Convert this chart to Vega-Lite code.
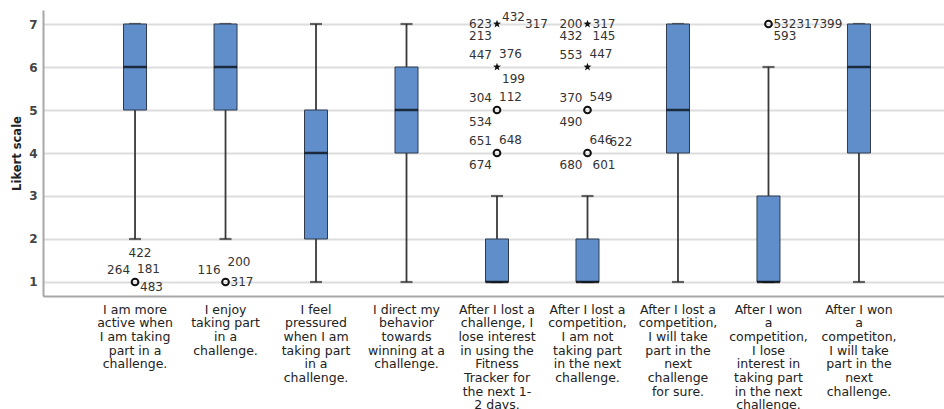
{
  "$schema": "https://vega.github.io/schema/vega-lite/v6.json",
  "autosize": "none",
  "width": 901,
  "height": 286,
  "padding": {"left": 43, "top": 10, "right": 0, "bottom": 113},
  "background": "white",
  "config": {
    "font": "DejaVu Sans",
    "view": {"stroke": null}
  },
  "datasets": {
    "boxes": [
      {"q": "I am more\nactive when\nI am taking\npart in a\nchallenge.", "lower": 2, "q1": 5, "median": 6, "q3": 7, "upper": 7},
      {"q": "I enjoy\ntaking part\nin a\nchallenge.", "lower": 2, "q1": 5, "median": 6, "q3": 7, "upper": 7},
      {"q": "I feel\npressured\nwhen I am\ntaking part\nin a\nchallenge.", "lower": 1, "q1": 2, "median": 4, "q3": 5, "upper": 7},
      {"q": "I direct my\nbehavior\ntowards\nwinning at a\nchallenge.", "lower": 1, "q1": 4, "median": 5, "q3": 6, "upper": 7},
      {"q": "After I lost a\nchallenge, I\nlose interest\nin using the\nFitness\nTracker for\nthe next 1-\n2 days.", "lower": 1, "q1": 1, "median": 1, "q3": 2, "upper": 3},
      {"q": "After I lost a\ncompetition,\nI am not\ntaking part\nin the next\nchallenge.", "lower": 1, "q1": 1, "median": 1, "q3": 2, "upper": 3},
      {"q": "After I lost a\ncompetition,\nI will take\npart in the\nnext\nchallenge\nfor sure.", "lower": 1, "q1": 4, "median": 5, "q3": 7, "upper": 7},
      {"q": "After I won\na\ncompetition,\nI lose\ninterest in\ntaking part\nin the next\nchallenge.", "lower": 1, "q1": 1, "median": 1, "q3": 3, "upper": 6},
      {"q": "After I won\na\ncompetiton,\nI will take\npart in the\nnext\nchallenge.", "lower": 1, "q1": 4, "median": 6, "q3": 7, "upper": 7}
    ],
    "outliers": [
      {"q": "I am more\nactive when\nI am taking\npart in a\nchallenge.", "value": 1, "kind": "outlier"},
      {"q": "I enjoy\ntaking part\nin a\nchallenge.", "value": 1, "kind": "outlier"},
      {"q": "After I lost a\nchallenge, I\nlose interest\nin using the\nFitness\nTracker for\nthe next 1-\n2 days.", "value": 4, "kind": "outlier"},
      {"q": "After I lost a\nchallenge, I\nlose interest\nin using the\nFitness\nTracker for\nthe next 1-\n2 days.", "value": 5, "kind": "outlier"},
      {"q": "After I lost a\nchallenge, I\nlose interest\nin using the\nFitness\nTracker for\nthe next 1-\n2 days.", "value": 6, "kind": "extreme"},
      {"q": "After I lost a\nchallenge, I\nlose interest\nin using the\nFitness\nTracker for\nthe next 1-\n2 days.", "value": 7, "kind": "extreme"},
      {"q": "After I lost a\ncompetition,\nI am not\ntaking part\nin the next\nchallenge.", "value": 4, "kind": "outlier"},
      {"q": "After I lost a\ncompetition,\nI am not\ntaking part\nin the next\nchallenge.", "value": 5, "kind": "outlier"},
      {"q": "After I lost a\ncompetition,\nI am not\ntaking part\nin the next\nchallenge.", "value": 6, "kind": "extreme"},
      {"q": "After I lost a\ncompetition,\nI am not\ntaking part\nin the next\nchallenge.", "value": 7, "kind": "extreme"},
      {"q": "After I won\na\ncompetition,\nI lose\ninterest in\ntaking part\nin the next\nchallenge.", "value": 7, "kind": "outlier"}
    ],
    "labels": [
      {"q": "I am more\nactive when\nI am taking\npart in a\nchallenge.", "value": 1, "label": "483", "pos": "rlow"},
      {"q": "I am more\nactive when\nI am taking\npart in a\nchallenge.", "value": 1, "label": "264", "pos": "ul"},
      {"q": "I am more\nactive when\nI am taking\npart in a\nchallenge.", "value": 1, "label": "181", "pos": "ur"},
      {"q": "I am more\nactive when\nI am taking\npart in a\nchallenge.", "value": 1, "label": "422", "pos": "uu"},
      {"q": "I enjoy\ntaking part\nin a\nchallenge.", "value": 1, "label": "317", "pos": "r"},
      {"q": "I enjoy\ntaking part\nin a\nchallenge.", "value": 1, "label": "116", "pos": "ul"},
      {"q": "I enjoy\ntaking part\nin a\nchallenge.", "value": 1, "label": "200", "pos": "uur"},
      {"q": "After I lost a\nchallenge, I\nlose interest\nin using the\nFitness\nTracker for\nthe next 1-\n2 days.", "value": 7, "label": "623", "pos": "l"},
      {"q": "After I lost a\nchallenge, I\nlose interest\nin using the\nFitness\nTracker for\nthe next 1-\n2 days.", "value": 7, "label": "432", "pos": "urs"},
      {"q": "After I lost a\nchallenge, I\nlose interest\nin using the\nFitness\nTracker for\nthe next 1-\n2 days.", "value": 7, "label": "317", "pos": "r2"},
      {"q": "After I lost a\nchallenge, I\nlose interest\nin using the\nFitness\nTracker for\nthe next 1-\n2 days.", "value": 7, "label": "213", "pos": "dl"},
      {"q": "After I lost a\nchallenge, I\nlose interest\nin using the\nFitness\nTracker for\nthe next 1-\n2 days.", "value": 6, "label": "447", "pos": "ul"},
      {"q": "After I lost a\nchallenge, I\nlose interest\nin using the\nFitness\nTracker for\nthe next 1-\n2 days.", "value": 6, "label": "376", "pos": "ur"},
      {"q": "After I lost a\nchallenge, I\nlose interest\nin using the\nFitness\nTracker for\nthe next 1-\n2 days.", "value": 6, "label": "199", "pos": "dr"},
      {"q": "After I lost a\nchallenge, I\nlose interest\nin using the\nFitness\nTracker for\nthe next 1-\n2 days.", "value": 5, "label": "304", "pos": "ul"},
      {"q": "After I lost a\nchallenge, I\nlose interest\nin using the\nFitness\nTracker for\nthe next 1-\n2 days.", "value": 5, "label": "112", "pos": "ur"},
      {"q": "After I lost a\nchallenge, I\nlose interest\nin using the\nFitness\nTracker for\nthe next 1-\n2 days.", "value": 5, "label": "534", "pos": "dl"},
      {"q": "After I lost a\nchallenge, I\nlose interest\nin using the\nFitness\nTracker for\nthe next 1-\n2 days.", "value": 4, "label": "651", "pos": "ul"},
      {"q": "After I lost a\nchallenge, I\nlose interest\nin using the\nFitness\nTracker for\nthe next 1-\n2 days.", "value": 4, "label": "648", "pos": "ur"},
      {"q": "After I lost a\nchallenge, I\nlose interest\nin using the\nFitness\nTracker for\nthe next 1-\n2 days.", "value": 4, "label": "674", "pos": "dl"},
      {"q": "After I lost a\ncompetition,\nI am not\ntaking part\nin the next\nchallenge.", "value": 7, "label": "200", "pos": "l"},
      {"q": "After I lost a\ncompetition,\nI am not\ntaking part\nin the next\nchallenge.", "value": 7, "label": "317", "pos": "r"},
      {"q": "After I lost a\ncompetition,\nI am not\ntaking part\nin the next\nchallenge.", "value": 7, "label": "432", "pos": "dl"},
      {"q": "After I lost a\ncompetition,\nI am not\ntaking part\nin the next\nchallenge.", "value": 7, "label": "145", "pos": "dr"},
      {"q": "After I lost a\ncompetition,\nI am not\ntaking part\nin the next\nchallenge.", "value": 6, "label": "553", "pos": "ul"},
      {"q": "After I lost a\ncompetition,\nI am not\ntaking part\nin the next\nchallenge.", "value": 6, "label": "447", "pos": "ur"},
      {"q": "After I lost a\ncompetition,\nI am not\ntaking part\nin the next\nchallenge.", "value": 5, "label": "370", "pos": "ul"},
      {"q": "After I lost a\ncompetition,\nI am not\ntaking part\nin the next\nchallenge.", "value": 5, "label": "549", "pos": "ur"},
      {"q": "After I lost a\ncompetition,\nI am not\ntaking part\nin the next\nchallenge.", "value": 5, "label": "490", "pos": "dl"},
      {"q": "After I lost a\ncompetition,\nI am not\ntaking part\nin the next\nchallenge.", "value": 4, "label": "646", "pos": "ur"},
      {"q": "After I lost a\ncompetition,\nI am not\ntaking part\nin the next\nchallenge.", "value": 4, "label": "622", "pos": "ur2"},
      {"q": "After I lost a\ncompetition,\nI am not\ntaking part\nin the next\nchallenge.", "value": 4, "label": "680", "pos": "dl"},
      {"q": "After I lost a\ncompetition,\nI am not\ntaking part\nin the next\nchallenge.", "value": 4, "label": "601", "pos": "dr"},
      {"q": "After I won\na\ncompetition,\nI lose\ninterest in\ntaking part\nin the next\nchallenge.", "value": 7, "label": "532", "pos": "r"},
      {"q": "After I won\na\ncompetition,\nI lose\ninterest in\ntaking part\nin the next\nchallenge.", "value": 7, "label": "317", "pos": "r2"},
      {"q": "After I won\na\ncompetition,\nI lose\ninterest in\ntaking part\nin the next\nchallenge.", "value": 7, "label": "399", "pos": "r3"},
      {"q": "After I won\na\ncompetition,\nI lose\ninterest in\ntaking part\nin the next\nchallenge.", "value": 7, "label": "593", "pos": "dr"}
    ]
  },
  "encoding": {
    "x": {
      "field": "q",
      "type": "nominal",
      "title": null,
      "scale": {
        "domain": [
          "I am more\nactive when\nI am taking\npart in a\nchallenge.",
          "I enjoy\ntaking part\nin a\nchallenge.",
          "I feel\npressured\nwhen I am\ntaking part\nin a\nchallenge.",
          "I direct my\nbehavior\ntowards\nwinning at a\nchallenge.",
          "After I lost a\nchallenge, I\nlose interest\nin using the\nFitness\nTracker for\nthe next 1-\n2 days.",
          "After I lost a\ncompetition,\nI am not\ntaking part\nin the next\nchallenge.",
          "After I lost a\ncompetition,\nI will take\npart in the\nnext\nchallenge\nfor sure.",
          "After I won\na\ncompetition,\nI lose\ninterest in\ntaking part\nin the next\nchallenge.",
          "After I won\na\ncompetiton,\nI will take\npart in the\nnext\nchallenge."
        ],
        "range": [0, 908],
        "paddingInner": 0,
        "paddingOuter": 0.517
      },
      "axis": {
        "labelAngle": 0,
        "labelExpr": "split(datum.label, '\\n')",
        "labelBaseline": "top",
        "labelAlign": "center",
        "labelPadding": 7,
        "labelFontSize": 12.5,
        "labelLineHeight": 13.7,
        "labelColor": "#222222",
        "labelLimit": 300,
        "ticks": false,
        "grid": false,
        "domainColor": "#a8a8a8",
        "domainWidth": 2
      }
    }
  },
  "layer": [
    {
      "data": {"name": "boxes"},
      "mark": {"type": "rule", "color": "#3a3a3a", "strokeWidth": 1.8},
      "encoding": {
        "y": {
          "field": "lower",
          "type": "quantitative",
          "title": "Likert scale",
          "scale": {"domain": [0.6744, 7.3256], "nice": false, "zero": false},
          "axis": {
            "values": [1, 2, 3, 4, 5, 6, 7],
            "ticks": false,
            "grid": true,
            "gridColor": "#dddddd",
            "gridWidth": 2,
            "domainColor": "#a8a8a8",
            "domainWidth": 2,
            "labelFontSize": 12,
            "labelFontWeight": "bold",
            "labelColor": "#444444",
            "labelPadding": 6,
            "titleFontSize": 11.5,
            "titleFontWeight": "bold",
            "titleColor": "#222222",
            "titlePadding": 6
          }
        },
        "y2": {"field": "upper"}
      }
    },
    {
      "data": {"name": "boxes"},
      "mark": {"type": "tick", "color": "#2a2a2a", "size": 12, "thickness": 2.2},
      "encoding": {"y": {"field": "lower", "type": "quantitative"}}
    },
    {
      "data": {"name": "boxes"},
      "mark": {"type": "tick", "color": "#2a2a2a", "size": 12, "thickness": 2.2},
      "encoding": {"y": {"field": "upper", "type": "quantitative"}}
    },
    {
      "data": {"name": "boxes"},
      "mark": {"type": "bar", "width": 23, "fill": "#5f8ecb", "stroke": "#2f3b4c", "strokeWidth": 1},
      "encoding": {
        "y": {"field": "q1", "type": "quantitative"},
        "y2": {"field": "q3"}
      }
    },
    {
      "data": {"name": "boxes"},
      "mark": {"type": "tick", "color": "#000000", "size": 23, "thickness": 2.5},
      "encoding": {"y": {"field": "median", "type": "quantitative"}}
    },
    {
      "data": {"name": "outliers"},
      "transform": [{"filter": "datum.kind === 'outlier'"}],
      "mark": {"type": "point", "shape": "circle", "filled": false, "stroke": "#111111", "strokeWidth": 2, "size": 45, "opacity": 1},
      "encoding": {"y": {"field": "value", "type": "quantitative"}}
    },
    {
      "data": {"name": "outliers"},
      "transform": [{"filter": "datum.kind === 'extreme'"}],
      "mark": {"type": "point", "shape": "M0,-1L0.24,-0.33L0.95,-0.31L0.38,0.12L0.59,0.81L0,0.4L-0.59,0.81L-0.38,0.12L-0.95,-0.31L-0.24,-0.33Z", "filled": true, "fill": "#111111", "size": 70, "opacity": 1},
      "encoding": {"y": {"field": "value", "type": "quantitative"}}
    },
    {
      "data": {"name": "labels"},
      "transform": [{"filter": "datum.pos === 'l'"}],
      "mark": {"type": "text", "align": "right", "baseline": "middle", "dx": -5, "dy": 0, "fontSize": 12, "color": "#333333"},
      "encoding": {"y": {"field": "value", "type": "quantitative"}, "text": {"field": "label"}}
    },
    {
      "data": {"name": "labels"},
      "transform": [{"filter": "datum.pos === 'r'"}],
      "mark": {"type": "text", "align": "left", "baseline": "middle", "dx": 5, "dy": 0, "fontSize": 12, "color": "#333333"},
      "encoding": {"y": {"field": "value", "type": "quantitative"}, "text": {"field": "label"}}
    },
    {
      "data": {"name": "labels"},
      "transform": [{"filter": "datum.pos === 'r2'"}],
      "mark": {"type": "text", "align": "left", "baseline": "middle", "dx": 28, "dy": 0, "fontSize": 12, "color": "#333333"},
      "encoding": {"y": {"field": "value", "type": "quantitative"}, "text": {"field": "label"}}
    },
    {
      "data": {"name": "labels"},
      "transform": [{"filter": "datum.pos === 'r3'"}],
      "mark": {"type": "text", "align": "left", "baseline": "middle", "dx": 51, "dy": 0, "fontSize": 12, "color": "#333333"},
      "encoding": {"y": {"field": "value", "type": "quantitative"}, "text": {"field": "label"}}
    },
    {
      "data": {"name": "labels"},
      "transform": [{"filter": "datum.pos === 'rlow'"}],
      "mark": {"type": "text", "align": "left", "baseline": "middle", "dx": 5, "dy": 5, "fontSize": 12, "color": "#333333"},
      "encoding": {"y": {"field": "value", "type": "quantitative"}, "text": {"field": "label"}}
    },
    {
      "data": {"name": "labels"},
      "transform": [{"filter": "datum.pos === 'ul'"}],
      "mark": {"type": "text", "align": "right", "baseline": "middle", "dx": -5, "dy": -12, "fontSize": 12, "color": "#333333"},
      "encoding": {"y": {"field": "value", "type": "quantitative"}, "text": {"field": "label"}}
    },
    {
      "data": {"name": "labels"},
      "transform": [{"filter": "datum.pos === 'ur'"}],
      "mark": {"type": "text", "align": "left", "baseline": "middle", "dx": 2, "dy": -13, "fontSize": 12, "color": "#333333"},
      "encoding": {"y": {"field": "value", "type": "quantitative"}, "text": {"field": "label"}}
    },
    {
      "data": {"name": "labels"},
      "transform": [{"filter": "datum.pos === 'urs'"}],
      "mark": {"type": "text", "align": "left", "baseline": "middle", "dx": 5, "dy": -7, "fontSize": 12, "color": "#333333"},
      "encoding": {"y": {"field": "value", "type": "quantitative"}, "text": {"field": "label"}}
    },
    {
      "data": {"name": "labels"},
      "transform": [{"filter": "datum.pos === 'ur2'"}],
      "mark": {"type": "text", "align": "left", "baseline": "middle", "dx": 22, "dy": -11, "fontSize": 12, "color": "#333333"},
      "encoding": {"y": {"field": "value", "type": "quantitative"}, "text": {"field": "label"}}
    },
    {
      "data": {"name": "labels"},
      "transform": [{"filter": "datum.pos === 'uur'"}],
      "mark": {"type": "text", "align": "left", "baseline": "middle", "dx": 2, "dy": -20, "fontSize": 12, "color": "#333333"},
      "encoding": {"y": {"field": "value", "type": "quantitative"}, "text": {"field": "label"}}
    },
    {
      "data": {"name": "labels"},
      "transform": [{"filter": "datum.pos === 'uu'"}],
      "mark": {"type": "text", "align": "center", "baseline": "middle", "dx": 5, "dy": -29, "fontSize": 12, "color": "#333333"},
      "encoding": {"y": {"field": "value", "type": "quantitative"}, "text": {"field": "label"}}
    },
    {
      "data": {"name": "labels"},
      "transform": [{"filter": "datum.pos === 'dl'"}],
      "mark": {"type": "text", "align": "right", "baseline": "middle", "dx": -5, "dy": 12, "fontSize": 12, "color": "#333333"},
      "encoding": {"y": {"field": "value", "type": "quantitative"}, "text": {"field": "label"}}
    },
    {
      "data": {"name": "labels"},
      "transform": [{"filter": "datum.pos === 'dr'"}],
      "mark": {"type": "text", "align": "left", "baseline": "middle", "dx": 5, "dy": 12, "fontSize": 12, "color": "#333333"},
      "encoding": {"y": {"field": "value", "type": "quantitative"}, "text": {"field": "label"}}
    }
  ]
}
